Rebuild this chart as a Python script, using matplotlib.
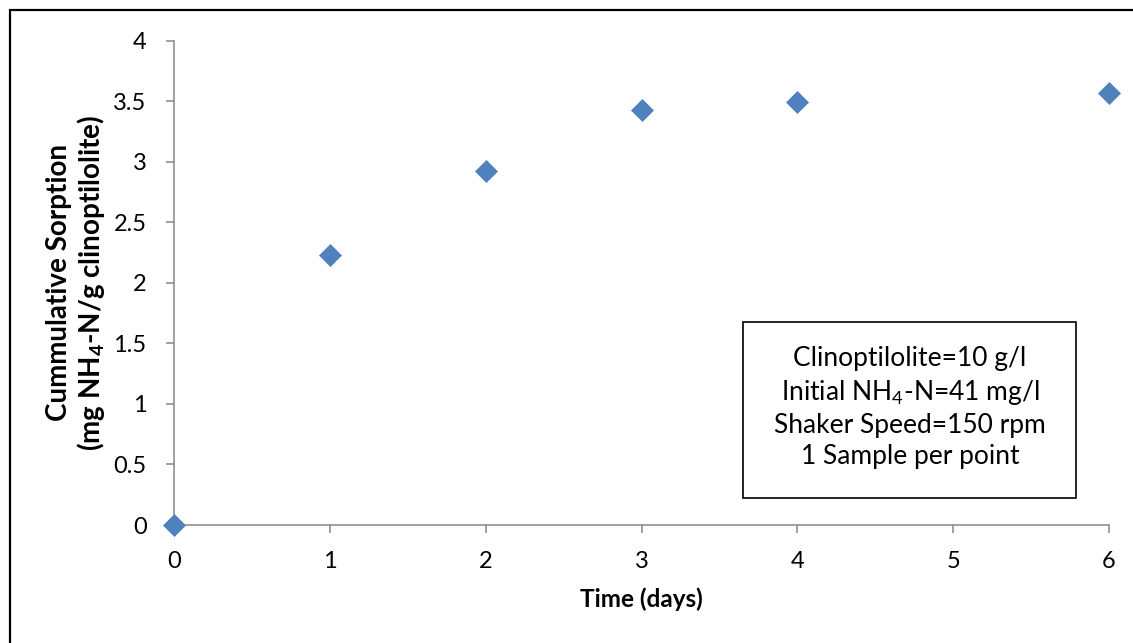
import matplotlib
matplotlib.use("Agg")
import matplotlib.pyplot as plt
from matplotlib.patches import Rectangle

# Cumulative NH4-N sorption on clinoptilolite over time
days = [0, 1, 2, 3, 4, 6]
sorption = [0.0, 2.23, 2.92, 3.43, 3.49, 3.57]

x_ticks = [0, 1, 2, 3, 4, 5, 6]
y_ticks = [0, 0.5, 1, 1.5, 2, 2.5, 3, 3.5, 4]
y_tick_labels = ["0", "0.5", "1", "1.5", "2", "2.5", "3", "3.5", "4"]

conditions = [
    "Clinoptilolite=10 g/l",
    "Initial NH$_4$-N=41 mg/l",
    "Shaker Speed=150 rpm",
    "1 Sample per point",
]

plt.rcParams["font.family"] = ["Lato", "DejaVu Sans"]
plt.rcParams["mathtext.fontset"] = "custom"
plt.rcParams["mathtext.rm"] = "Lato"
plt.rcParams["mathtext.bf"] = "Lato:bold"

AXIS_GREY = "#868686"
MARKER_BLUE = "#4F81BD"

fig = plt.figure(figsize=(11.33, 6.43), dpi=100)
ax = fig.add_axes([0.1536, 0.1835, 0.8252, 0.7532])

ax.plot(days, sorption, linestyle="none", marker="D", markersize=11,
        color=MARKER_BLUE, markeredgecolor=MARKER_BLUE, markeredgewidth=0.5,
        clip_on=False, zorder=5)

ax.set_xlim(0, 6)
ax.set_ylim(0, 4)
ax.set_xticks(x_ticks)
ax.set_yticks(y_ticks)
ax.set_yticklabels(y_tick_labels)

for side in ("top", "right"):
    ax.spines[side].set_visible(False)
for side in ("left", "bottom"):
    ax.spines[side].set_color(AXIS_GREY)
    ax.spines[side].set_linewidth(1.1)

ax.tick_params(axis="both", direction="out", length=5.8, width=1.1,
               color=AXIS_GREY, labelsize=17, labelcolor="black")
ax.tick_params(axis="x", pad=13)
ax.tick_params(axis="y", pad=14)

ax.set_xlabel("Time (days)", fontsize=17.5, fontweight="bold", labelpad=11)
ax.set_ylabel("Cummulative Sorption\n(mg NH$_\\mathbf{4}$-N/g clinoptilolite)",
              fontsize=20, fontweight="bold", linespacing=1.1)
ax.yaxis.set_label_coords(-0.072, 0.5)

# Experimental conditions box
ax.add_patch(Rectangle((0.6086, 0.0557), 0.3561, 0.3629, transform=ax.transAxes,
                       facecolor="white", edgecolor="black", linewidth=1.2,
                       zorder=3))
ax.text(0.787, 0.243, "\n".join(conditions), transform=ax.transAxes,
        ha="center", va="center", fontsize=19, linespacing=1.3, zorder=4)

# Chart-area border
fig.patches.append(Rectangle((10 / 1133, -0.05), 1.1, 1 - 10 / 643 + 0.05,
                             transform=fig.transFigure, fill=False,
                             edgecolor="black", linewidth=1.6))

fig.savefig("out.png", dpi=100)
